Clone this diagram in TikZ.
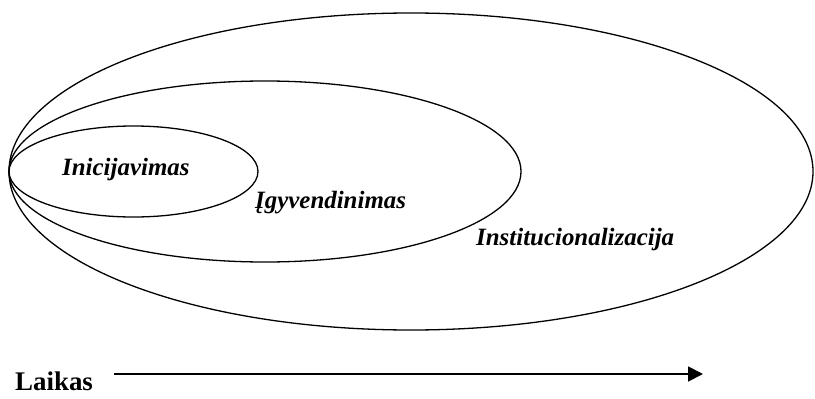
\documentclass[tikz,border=0pt]{standalone}
\usepackage{fontspec}
\setmainfont{Liberation Serif}
\usepackage{tikz}
\usetikzlibrary{shapes.geometric,arrows.meta}
\newcommand{\phasezone}[4] {\node at (#1) (#2) [ellipse, draw, line width=1.3bp, inner sep=0pt, minimum width=#3, minimum height=#4] {};}
\newcommand{\phaselabel}[3] {\node at (#1) (#2) [anchor=base west, inner sep=0pt, font=\fontsize{25}{30}\selectfont\bfseries\itshape] {#3};}
\newcommand{\timeaxis}[2] {\draw [line width=1.8bp, -{Triangle[length=15bp, width=15bp]}] (#1) -- (#2);}

\begin{document}
\begin{tikzpicture}[x=1bp, y=1bp]
\useasboundingbox (0,0) rectangle (815,398);
\phasezone {411,226.5} {institucionalizacija} {804bp} {317bp};
\phasezone {265,226.5} {igyvendinimas} {512bp} {181bp};
\phasezone {133.5,226.5} {inicijavimas} {249bp} {91bp};

\phaselabel {62,223} {inicijavimaslabel} {Inicijavimas};
\phaselabel {255,190} {igyvendinimaslabel} {Įgyvendinimas};
\phaselabel {476,153} {institucionalizacijalabel} {Institucionalizacija};

\node at (15,8) (laikas) [anchor=base west, inner sep=0pt, font=\fontsize{27}{32}\selectfont\bfseries] {Laikas};
\coordinate (tstart) at (114,24);
\coordinate (tend) at (703,24);
\timeaxis{tstart}{tend};

\end{tikzpicture}
\end{document}
